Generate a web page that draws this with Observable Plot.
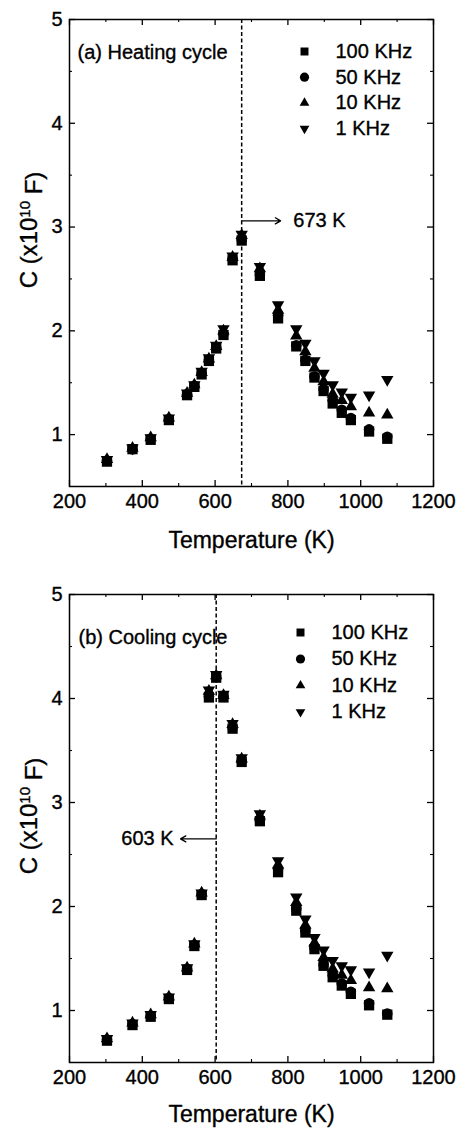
<!DOCTYPE html>
<html><head><meta charset="utf-8">
<script src="https://cdn.jsdelivr.net/npm/d3@7"></script>
<script src="https://cdn.jsdelivr.net/npm/@observablehq/plot@0.6"></script>
<style>body{margin:0;background:#fff;} #chart svg{display:block;} #chart svg text{stroke:black;stroke-width:0.35px;}</style>
</head><body><div id="chart"></div>
<script>
// ---------- data ----------
const seriesNames = ["100 KHz", "50 KHz", "10 KHz", "1 KHz"];

// (a) Heating cycle
const heatT    = [303, 373, 423, 473, 523, 543, 563, 583, 603, 623, 648, 673, 723, 773, 823, 848, 873, 898, 923, 948, 973, 1023, 1073];
const heat100k = [0.74, 0.86, 0.95, 1.14, 1.38, 1.46, 1.58, 1.71, 1.83, 1.96, 2.68, 2.87, 2.53, 2.12, 1.85, 1.71, 1.55, 1.42, 1.30, 1.21, 1.14, 1.03, 0.96];
const heat50k  = [0.75, 0.86, 0.96, 1.15, 1.39, 1.47, 1.59, 1.72, 1.84, 1.97, 2.69, 2.88, 2.54, 2.15, 1.86, 1.72, 1.56, 1.44, 1.33, 1.24, 1.16, 1.05, 0.98];
const heat10k  = [0.76, 0.87, 0.97, 1.16, 1.40, 1.48, 1.60, 1.73, 1.85, 2.00, 2.71, 2.92, 2.60, 2.20, 1.95, 1.80, 1.64, 1.51, 1.39, 1.33, 1.27, 1.21, 1.19];
const heat1k   = [0.76, 0.87, 0.97, 1.16, 1.40, 1.48, 1.61, 1.74, 1.86, 2.02, 2.72, 2.93, 2.62, 2.25, 2.02, 1.88, 1.71, 1.59, 1.48, 1.41, 1.36, 1.38, 1.53];

// (b) Cooling cycle
const coolT    = [303, 373, 423, 473, 523, 543, 563, 583, 603, 623, 648, 673, 723, 773, 823, 848, 873, 898, 923, 948, 973, 1023, 1073];
const cool100k = [0.71, 0.86, 0.94, 1.11, 1.39, 1.62, 2.11, 4.01, 4.20, 4.01, 3.71, 3.39, 2.82, 2.33, 1.96, 1.75, 1.59, 1.43, 1.32, 1.24, 1.16, 1.05, 0.96];
const cool50k  = [0.72, 0.87, 0.95, 1.12, 1.40, 1.63, 2.12, 4.02, 4.21, 4.02, 3.72, 3.40, 2.83, 2.36, 1.98, 1.77, 1.60, 1.44, 1.34, 1.26, 1.18, 1.07, 0.97];
const cool10k  = [0.73, 0.88, 0.96, 1.13, 1.41, 1.64, 2.13, 4.07, 4.22, 4.03, 3.75, 3.42, 2.87, 2.40, 2.04, 1.82, 1.65, 1.51, 1.40, 1.34, 1.29, 1.22, 1.21];
const cool1k   = [0.73, 0.88, 0.96, 1.13, 1.41, 1.64, 2.13, 4.08, 4.23, 4.04, 3.76, 3.43, 2.89, 2.44, 2.09, 1.88, 1.70, 1.58, 1.48, 1.43, 1.39, 1.37, 1.53];

// axes
const xDomain = [200, 1200];
const yDomain = [0.5, 5];
const xTicksMajor = [200, 400, 600, 800, 1000, 1200];
const xTicksMinor = [300, 500, 700, 900, 1100];
const yTicksMajor = [1, 2, 3, 4, 5];
const yTicksMinor = [1.5, 2.5, 3.5, 4.5];

// annotations: transition temperature, arrow level, arrow end, label position
const panelTitles = ["(a) Heating cycle", "(b) Cooling cycle"];
const transitionT = [673, 603];
const arrowY      = [3.06, 2.65];
const arrowEndT   = [780, 505];
const markLabelT  = [815, 486];
const markLabels  = ["673 K", "603 K"];

const xLabel = "Temperature (K)";

// ---------- drawing ----------
const FONT = "'Liberation Sans', Arial, Helvetica, sans-serif";
const triangleDown = {
  draw(context, size) {
    const y = -Math.sqrt(size / (Math.sqrt(3) * 3));
    context.moveTo(0, -2 * y);
    context.lineTo(-Math.sqrt(3) * y, y);
    context.lineTo(Math.sqrt(3) * y, y);
    context.closePath();
  }
};
const symbols = ["square", "circle", "triangle", triangleDown];
const dataR   = [5.8, 5.3, 4.6, 4.6];
const legR    = [4.5, 4.6, 3.6, 3.6];

function buildPanel(i, T, series, geom) {
  const W = 457;
  const frameW = W - geom.ml - geom.mr;
  const frameH = geom.h - geom.mt - geom.mb;
  const rows = series.map((vals, s) => T.map((t, k) => ({T: t, C: vals[k], s})));
  const marks = [];
  // ticks (inward)
  marks.push(Plot.tickY(yTicksMajor, {y: d => d, insetRight: frameW - 6, stroke: "black", strokeWidth: 1.3}));
  marks.push(Plot.tickY(yTicksMajor, {y: d => d, insetLeft: frameW - 6, stroke: "black", strokeWidth: 1.3}));
  marks.push(Plot.tickY(yTicksMinor, {y: d => d, insetRight: frameW - 3, stroke: "black", strokeWidth: 1.1}));
  marks.push(Plot.tickY(yTicksMinor, {y: d => d, insetLeft: frameW - 3, stroke: "black", strokeWidth: 1.1}));
  marks.push(Plot.tickX(xTicksMajor, {x: d => d, insetTop: frameH - 6, stroke: "black", strokeWidth: 1.3}));
  marks.push(Plot.tickX(xTicksMajor, {x: d => d, insetBottom: frameH - 6, stroke: "black", strokeWidth: 1.3}));
  marks.push(Plot.tickX(xTicksMinor, {x: d => d, insetTop: frameH - 3, stroke: "black", strokeWidth: 1.1}));
  marks.push(Plot.tickX(xTicksMinor, {x: d => d, insetBottom: frameH - 3, stroke: "black", strokeWidth: 1.1}));
  marks.push(Plot.axisX({ticks: xTicksMajor, tickFormat: d => String(d), tickSize: 0, tickPadding: 7, label: null, fontSize: 20}));
  marks.push(Plot.axisY({ticks: yTicksMajor, tickFormat: d => String(d), tickSize: 0, tickPadding: 7, label: null, fontSize: 20}));
  // transition line + arrow + label
  marks.push(Plot.ruleX([transitionT[i]], {x: d => d, stroke: "black", strokeWidth: 1.5, strokeDasharray: "4,2.5"}));
  marks.push(Plot.arrow([0], {x1: () => transitionT[i], y1: () => arrowY[i], x2: () => arrowEndT[i], y2: () => arrowY[i], stroke: "black", strokeWidth: 1.3, headLength: 7}));
  marks.push(Plot.text([markLabels[i]], {x: () => markLabelT[i], y: () => arrowY[i], text: d => d, textAnchor: i === 0 ? "start" : "end", fontSize: 20, fill: "black", lineAnchor: "middle"}));
  // data
  for (let s = 0; s < 4; s++) {
    marks.push(Plot.dot(rows[s], {x: "T", y: "C", symbol: () => symbols[s], r: dataR[s], fill: "black", stroke: "none"}));
  }
  // panel title
  marks.push(Plot.text([panelTitles[i]], {frameAnchor: "top-left", text: d => d, dx: geom.titleDx, dy: geom.titleDy, textAnchor: "start", lineAnchor: "middle", fontSize: 20, fill: "black"}));
  // legend
  for (let s = 0; s < 4; s++) {
    marks.push(Plot.dot([seriesNames[s]], {frameAnchor: "top-left", dx: geom.legDx, dy: geom.legDy + s * geom.legStep, symbol: () => symbols[s], r: legR[s], fill: "black", stroke: "none"}));
    marks.push(Plot.text([seriesNames[s]], {frameAnchor: "top-left", text: d => d, dx: geom.legTextDx, dy: geom.legDy + s * geom.legStep, textAnchor: "start", lineAnchor: "middle", fontSize: 20, fill: "black"}));
  }
  // x label
  marks.push(Plot.text([xLabel], {frameAnchor: "bottom", text: d => d, dy: geom.xLabelDy, textAnchor: "middle", lineAnchor: "middle", fontSize: 23, fill: "black"}));
  marks.push(Plot.frame({stroke: "black", strokeWidth: 1.5}));

  const plot = Plot.plot({
    width: W, height: geom.h,
    marginTop: geom.mt, marginBottom: geom.mb, marginLeft: geom.ml, marginRight: geom.mr,
    x: {domain: xDomain}, y: {domain: yDomain},
    style: {fontFamily: FONT, fontSize: "20px", color: "black", background: "white", overflow: "visible"},
    marks
  });
  // y label with superscript
  const t = d3.select(plot).append("text")
    .attr("transform", `translate(37, ${geom.yLabelCy}) rotate(-90)`)
    .attr("text-anchor", "middle")
    .attr("font-family", FONT)
    .attr("font-size", 24)
    .attr("fill", "black");
  t.append("tspan").text("C (x10");
  t.append("tspan").attr("dy", "-0.5em").attr("font-size", 15).text("10");
  t.append("tspan").attr("dy", "0.5em").text(" F)");
  return plot;
}

const chart = document.getElementById("chart");
chart.appendChild(buildPanel(0, heatT, [heat100k, heat50k, heat10k, heat1k], {
  h: 560, mt: 19, mb: 74, ml: 69, mr: 24,
  titleDx: 8, titleDy: 33, legDx: 235, legTextDx: 266, legDy: 32, legStep: 25.7,
  xLabelDy: 54, yLabelCy: 230
}));
chart.appendChild(buildPanel(1, coolT, [cool100k, cool50k, cool10k, cool1k], {
  h: 571, mt: 34, mb: 69, ml: 69, mr: 24,
  titleDx: 9, titleDy: 43, legDx: 231, legTextDx: 262, legDy: 38, legStep: 26.5,
  xLabelDy: 52, yLabelCy: 256
}));
</script></body></html>
